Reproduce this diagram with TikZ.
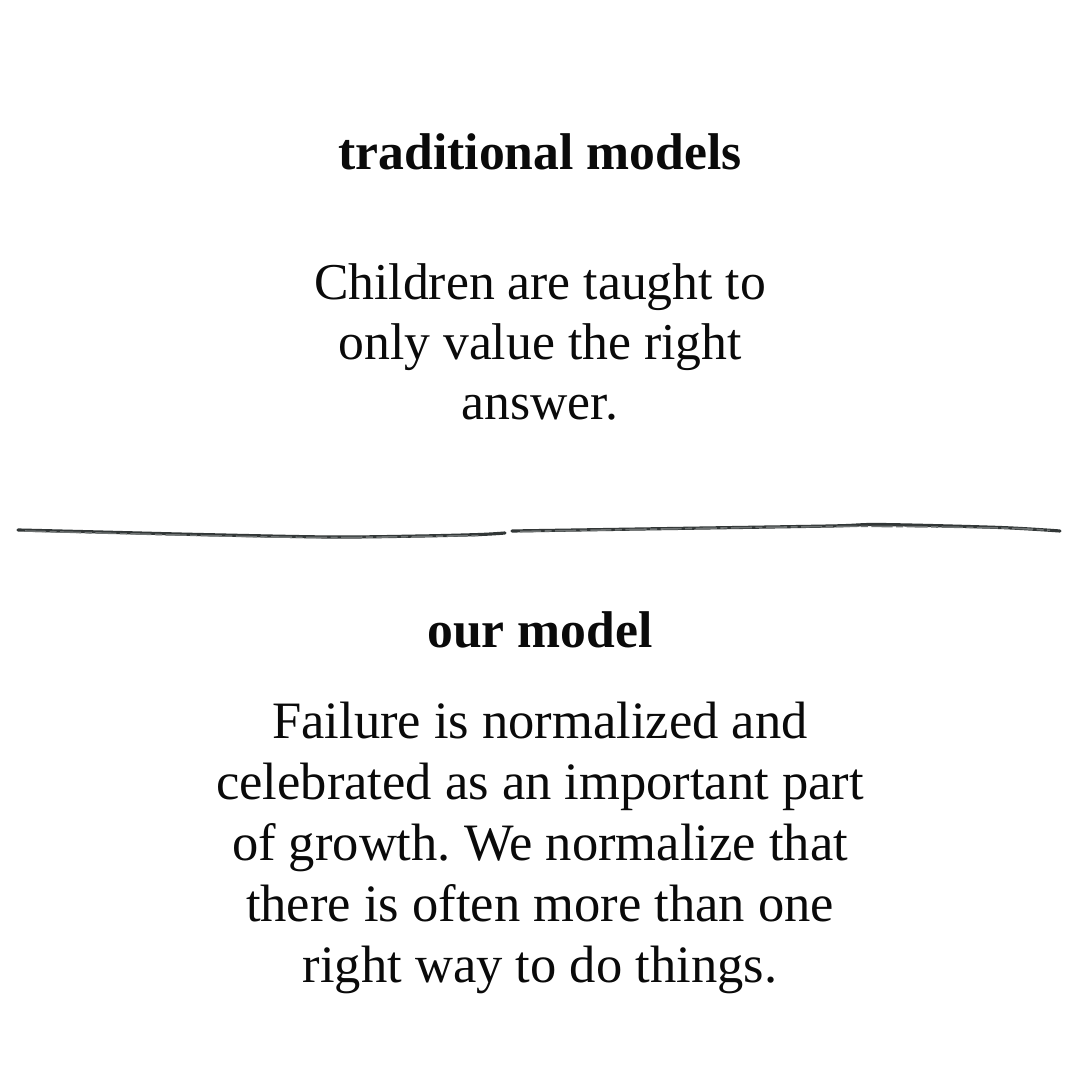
\documentclass[tikz,border=0pt]{standalone}
\usepackage{fontspec}
\setmainfont{Liberation Serif}
\usepackage{xcolor}
\usetikzlibrary{positioning}
\frenchspacing
\definecolor{inkblack}{RGB}{10,10,10}
\definecolor{pencilgray}{RGB}{50,55,55}
\tikzset{
  % 标题
  heading/.style={font=\fontsize{14.7}{17}\selectfont\bfseries, text=inkblack, inner sep=0pt, anchor=base},
  % 正文段落 (base = 最后一行基线)
  bodytext/.style={font=\fontsize{14.7}{17.1}\selectfont, text=inkblack, inner sep=0pt, align=center, anchor=base},
  % 铅笔分隔线
  pencil/.style={pencilgray, line width=0.9pt, line cap=round},
  pencilrough/.style={pencilgray!70, line width=0.45pt, dash pattern=on 6pt off 1pt on 2pt off 1pt},
}

\begin{document}
\begin{tikzpicture}
        \useasboundingbox[fill=white] (0, 0) rectangle (10.8, -10.8);

        % Traditional
        \node[heading] (tradhead) at (5.4, -1.70) {traditional models};
        \node[bodytext] (tradtext) at (5.4, -4.20) {Children are taught to\\only value the right\\answer.};

        % Divider
        \draw[pencil] plot[smooth] coordinates {(0.18,-5.30) (1.0,-5.32) (2.0,-5.345) (3.3,-5.37) (4.2,-5.36) (4.8,-5.345) (5.05,-5.33)};
        \draw[pencil] plot[smooth] coordinates {(5.12,-5.31) (6.4,-5.29) (8.3,-5.26) (8.8,-5.245) (10.0,-5.275) (10.6,-5.31)};
        \draw[pencilrough] plot[smooth] coordinates {(0.25,-5.31) (2.0,-5.355) (3.3,-5.375) (4.8,-5.355)};
        \draw[pencilrough] plot[smooth] coordinates {(5.2,-5.315) (8.3,-5.265) (10.0,-5.28) (10.5,-5.305)};

        % Our model
        \node[heading] (ourhead) at (5.4, -6.47) {our model};
        \node[bodytext, font=\fontsize{14.95}{17.35}\selectfont] (ourtext) at (5.4, -9.82) {Failure is normalized and\\celebrated as an important part\\of growth. We normalize that\\there is often more than one\\right way to do things.};
    \end{tikzpicture}
\end{document}
